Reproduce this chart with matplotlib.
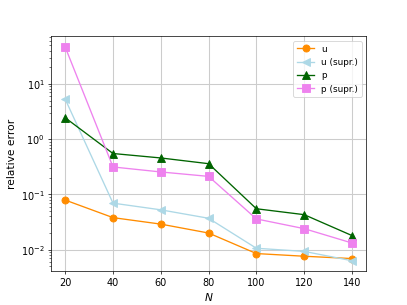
import matplotlib
matplotlib.use('Agg')
import matplotlib.pyplot as plt

N = [20, 40, 60, 80, 100, 120, 140]
err_u = [0.079, 0.038, 0.029, 0.020, 0.0085, 0.0076, 0.0069]
err_u_supr = [5.3, 0.0695, 0.0526, 0.037, 0.0106, 0.0093, 0.0063]
err_p = [2.44, 0.55, 0.457, 0.36, 0.055, 0.043, 0.018]
err_p_supr = [46.5, 0.314, 0.255, 0.212, 0.036, 0.024, 0.0132]

fig = plt.figure(figsize=(6.4, 4.8), dpi=407 / 6.4)
ax = fig.add_subplot(111)
ax.semilogy(N, err_u, 'o-', color='darkorange', markersize=8, label='u')
ax.semilogy(N, err_u_supr, '<-', color='lightblue', markersize=8, label='u (supr.)')
ax.semilogy(N, err_p, '^-', color='darkgreen', markersize=8, label='p')
ax.semilogy(N, err_p_supr, 's-', color='violet', markersize=8, label='p (supr.)')
ax.grid(True, color='#cccccc', linewidth=1.2)
ax.tick_params(labelsize=11)
ax.set_xlabel('$N$', fontsize=12)
ax.set_ylabel('relative error', fontsize=12)
ax.legend(loc='upper right')
fig.savefig('out.png', dpi=407 / 6.4)
